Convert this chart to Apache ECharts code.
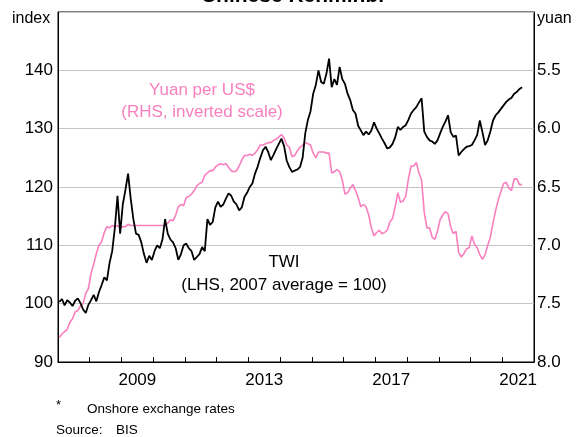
<!DOCTYPE html>
<html>
<head>
<meta charset="utf-8">
<script src="https://cdn.jsdelivr.net/npm/echarts@6/dist/echarts.min.js"></script>
<style>
  html, body { margin: 0; padding: 0; background: #fff; }
  #chart { width: 585px; height: 437px; }
</style>
</head>
<body>
<div id="chart"></div>
<script>
  // monthly data, Jan 2007 to Aug 2021
  var startYear = 2007;
  // TWI, index (2007 average = 100)
  var twi = [
    100.3, 100.8, 99.7, 100.6, 100.2, 99.6, 100.5, 100.9, 100.1, 99.0, 98.4, 99.8,
    100.6, 101.5, 100.4, 102.0, 103.2, 104.5, 104.0, 107.0, 109.0, 113.0, 118.5, 112.0,
    117.0, 119.5, 122.3, 118.0, 114.5, 112.0, 111.8, 110.5, 108.5, 107.0, 108.2, 107.5,
    109.0, 110.0, 109.5, 111.0, 114.5, 112.0, 111.0, 110.5, 109.5, 107.5, 108.5, 110.0,
    110.3, 109.5, 109.0, 107.5, 108.0, 108.5, 109.7, 109.0, 114.5, 113.5, 114.0, 116.5,
    117.5, 116.6, 117.0, 118.0, 118.9, 118.5, 117.5, 117.0, 116.0, 116.5, 118.3, 119.0,
    120.0, 120.6, 122.3, 123.5, 125.0, 126.3, 126.9, 126.0, 124.6, 125.5, 126.5, 127.4,
    128.3, 127.0, 124.5, 123.4, 122.6, 122.8, 123.0, 123.4, 125.0, 129.2, 131.5, 133.0,
    136.0, 137.5, 140.0, 138.0, 137.7, 139.4, 142.0, 137.1, 138.5, 137.5, 140.6, 138.5,
    137.7, 136.0, 134.9, 133.2, 132.6, 130.5, 129.7, 128.9, 129.5, 129.0, 129.7, 131.1,
    130.0, 129.2, 128.3, 127.5, 126.6, 126.8, 127.4, 128.5, 130.3, 129.8, 130.3, 130.6,
    131.5, 132.6, 133.2, 133.7, 134.5, 135.2, 129.5, 128.6, 128.0, 127.8, 127.4, 128.0,
    129.2, 130.3, 131.2, 132.3, 129.4, 128.6, 128.8, 125.4, 126.0, 126.5, 126.9, 127.0,
    127.2, 128.0, 128.9, 131.4, 129.4, 127.2, 128.0, 129.5, 131.4, 132.3, 132.8, 133.4,
    134.0, 134.6, 135.0, 135.3, 136.0, 136.3, 136.8, 137.1
  ];
  // yuan per US$
  var yuan = [
    7.79, 7.76, 7.74, 7.72, 7.66, 7.63, 7.57, 7.56, 7.52, 7.50, 7.41, 7.37,
    7.24, 7.16, 7.07, 7.00, 6.97, 6.89, 6.84, 6.85, 6.83, 6.84, 6.83, 6.85,
    6.84, 6.84, 6.82, 6.83, 6.83, 6.83, 6.83, 6.83, 6.83, 6.83, 6.83, 6.83,
    6.83, 6.83, 6.83, 6.83, 6.83, 6.81, 6.78, 6.79, 6.74, 6.67, 6.65, 6.66,
    6.59, 6.58, 6.56, 6.53, 6.49, 6.47, 6.46, 6.40, 6.38, 6.36, 6.36, 6.33,
    6.31, 6.30, 6.31, 6.30, 6.33, 6.36, 6.37, 6.36, 6.32, 6.27, 6.23, 6.23,
    6.22, 6.23, 6.21, 6.18, 6.14, 6.14, 6.13, 6.12, 6.12, 6.10, 6.09, 6.07,
    6.05, 6.08, 6.14, 6.16, 6.24, 6.23, 6.19, 6.16, 6.14, 6.12, 6.13, 6.14,
    6.21, 6.25, 6.20, 6.20, 6.20, 6.21, 6.21, 6.38, 6.37, 6.35, 6.37, 6.44,
    6.56, 6.55, 6.51, 6.48, 6.53, 6.59, 6.67, 6.65, 6.67, 6.74, 6.85, 6.92,
    6.89, 6.87, 6.90, 6.89, 6.87, 6.80, 6.77, 6.67, 6.55, 6.63, 6.62, 6.58,
    6.43, 6.32, 6.32, 6.29, 6.38, 6.44, 6.72, 6.85, 6.85, 6.93, 6.95, 6.88,
    6.78, 6.74, 6.71, 6.73, 6.84, 6.90, 6.88, 7.06, 7.10, 7.07, 7.03, 7.02,
    6.92, 6.99, 7.02, 7.08, 7.12, 7.08, 7.00, 6.93, 6.81, 6.70, 6.61, 6.54,
    6.47, 6.46, 6.51, 6.53, 6.43, 6.43, 6.48, 6.48
  ];
  var yearTicks = [2008, 2009, 2010, 2011, 2012, 2013, 2014, 2015, 2016, 2017, 2018, 2019, 2020, 2021];
  var yearLabels = [2009.5, 2013.5, 2017.5, 2021.5];

  function toPairs(arr) {
    var out = [];
    for (var i = 0; i < arr.length; i++) {
      out.push([startYear + (i + 0.5) / 12, arr[i]]);
    }
    return out;
  }

  var pink = '#f97fbe';
  var font = 'Arial, "Liberation Sans", sans-serif';
  var myChart = echarts.init(document.getElementById('chart'));
  var option = {
    backgroundColor: '#fff',
    animation: false,
    textStyle: { fontFamily: font },
    grid: {
      left: 58, right: 51, top: 12, bottom: 75,
      show: true, borderColor: '#000', borderWidth: 1
    },
    xAxis: {
      type: 'value',
      min: 2007, max: 2022,
      axisLine: { lineStyle: { color: '#000', width: 1 } },
      axisTick: { show: true, inside: true, length: 5, customValues: yearTicks, lineStyle: { color: '#000' } },
      axisLabel: {
        customValues: yearLabels, color: '#000', fontSize: 17, margin: 10,
        formatter: function (v) { return String(Math.floor(v)); }
      },
      splitLine: { show: false }
    },
    yAxis: [
      {
        type: 'value', min: 90, max: 150, interval: 10,
        axisLine: { show: true, lineStyle: { color: '#000' } },
        axisTick: { show: false },
        axisLabel: { color: '#000', fontSize: 17, margin: 5, showMaxLabel: false },
        splitLine: { show: true, lineStyle: { color: '#c4c4c4', width: 1 } }
      },
      {
        type: 'value', min: 5.0, max: 8.0, interval: 0.5, inverse: true,
        axisLine: { show: true, lineStyle: { color: '#000' } },
        axisTick: { show: false },
        axisLabel: {
          color: '#000', fontSize: 17, margin: 3, showMinLabel: false,
          formatter: function (v) { return v.toFixed(1); }
        },
        splitLine: { show: false }
      }
    ],
    series: [
      {
        name: 'Yuan per US$', type: 'line', yAxisIndex: 1,
        showSymbol: false, data: toPairs(yuan),
        lineStyle: { color: pink, width: 1.6 }, itemStyle: { color: pink }
      },
      {
        name: 'TWI', type: 'line', yAxisIndex: 0,
        showSymbol: false, data: toPairs(twi),
        lineStyle: { color: '#000', width: 1.8 }, itemStyle: { color: '#000' }
      }
    ],
    graphic: [
      { type: 'text', left: 'center', style: { text: 'Chinese Renminbi', x: 291, y: 7, font: 'bold 21px ' + font, fill: '#000', align: 'center', verticalAlign: 'bottom' } },
      { type: 'text', style: { text: 'index', x: 12, y: 19, font: '16px ' + font, fill: '#000', verticalAlign: 'middle' } },
      { type: 'text', style: { text: 'yuan', x: 537, y: 19, font: '16px ' + font, fill: '#000', verticalAlign: 'middle' } },
      { type: 'text', style: { text: 'Yuan per US$', x: 202, y: 90, font: '17px ' + font, fill: pink, align: 'center', verticalAlign: 'middle' } },
      { type: 'text', style: { text: '(RHS, inverted scale)', x: 202, y: 112, font: '17px ' + font, fill: pink, align: 'center', verticalAlign: 'middle' } },
      { type: 'text', style: { text: 'TWI', x: 284, y: 262, font: '17px ' + font, fill: '#000', align: 'center', verticalAlign: 'middle' } },
      { type: 'text', style: { text: '(LHS, 2007 average = 100)', x: 284, y: 285, font: '17px ' + font, fill: '#000', align: 'center', verticalAlign: 'middle' } },
      { type: 'text', style: { text: '*', x: 56, y: 405, font: '13px ' + font, fill: '#000', verticalAlign: 'middle' } },
      { type: 'text', style: { text: 'Onshore exchange rates', x: 87, y: 409, font: '13.5px ' + font, fill: '#000', verticalAlign: 'middle' } },
      { type: 'text', style: { text: 'Source:', x: 56, y: 430, font: '13.5px ' + font, fill: '#000', verticalAlign: 'middle' } },
      { type: 'text', style: { text: 'BIS', x: 116, y: 430, font: '13.5px ' + font, fill: '#000', verticalAlign: 'middle' } }
    ]
  };
  myChart.setOption(option);
</script>
</body>
</html>
